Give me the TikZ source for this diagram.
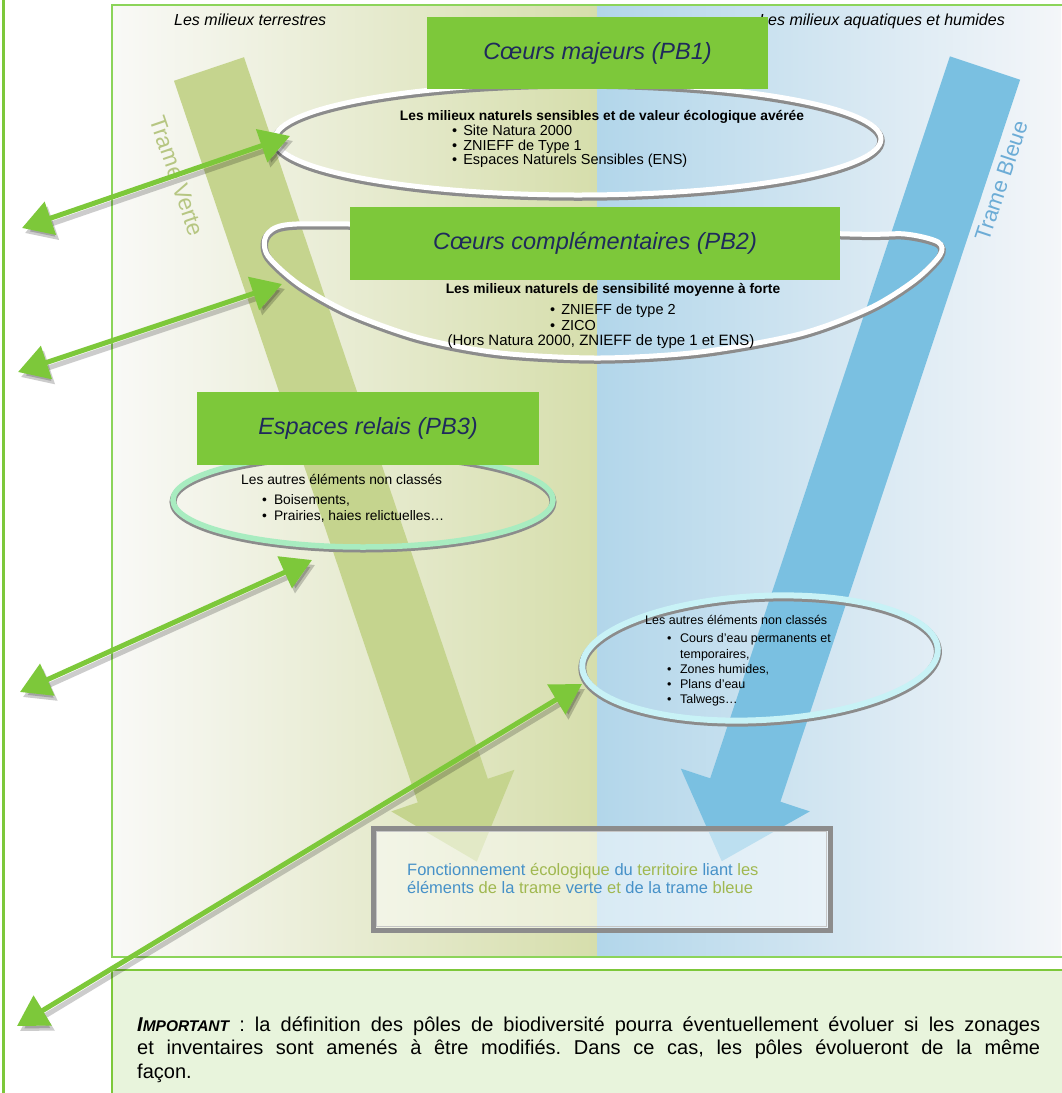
\documentclass[tikz,border=0pt]{standalone}
\usepackage{fontspec}
\setmainfont{Liberation Sans}
\usetikzlibrary{arrows.meta}
\definecolor{lime}{RGB}{125,200,58}
\definecolor{framegreen}{RGB}{140,212,90}
\definecolor{navy}{RGB}{31,42,92}
\definecolor{vbar}{RGB}{197,212,142}
\definecolor{bbar}{RGB}{122,192,225}
\definecolor{vtxt}{RGB}{182,198,130}
\definecolor{btxt}{RGB}{108,172,214}
\definecolor{impfill}{RGB}{232,244,220}
\definecolor{mint}{RGB}{168,236,192}
\definecolor{cyanring}{RGB}{200,242,246}
\definecolor{ringgray}{RGB}{140,140,140}
\definecolor{fblue}{RGB}{70,145,200}
\definecolor{fgreen}{RGB}{160,184,80}
\definecolor{bgLa}{RGB}{249,249,247}
\definecolor{bgLb}{RGB}{238,240,222}
\definecolor{bgLc}{RGB}{214,222,172}
\definecolor{bgRa}{RGB}{178,214,234}
\definecolor{bgRb}{RGB}{214,232,242}
\definecolor{bgRc}{RGB}{244,246,249}
\newcommand{\myfs}[1]{\fontsize{#1}{#1}\selectfont}
\frenchspacing
\begin{document}
\begin{tikzpicture}[x=1pt,y=1pt,
  titlebox/.style={fill=lime, inner sep=0pt, text=navy, font=\myfs{23.5}\itshape},
  lst/.style={anchor=base west, inner sep=0pt},
  ctr/.style={anchor=base, inner sep=0pt},
  conn/.style={draw=lime, line width=5pt, {Triangle[length=30pt,width=34pt]}-{Triangle[length=30pt,width=34pt]}},
  connsh/.style={draw=black, opacity=0.2, line width=5pt, {Triangle[length=30pt,width=34pt]}-{Triangle[length=30pt,width=34pt]}, transform canvas={shift={(3pt,-5pt)}}}
]
\useasboundingbox (0,0) rectangle (1061,-1093);
\fill[white] (0,0) rectangle (1061,-1093);

% background of the diagram
\shade[left color=bgLa, middle color=bgLb, right color=bgLc] (112,-5) rectangle (597,-957);
\shade[left color=bgRa, middle color=bgRb, right color=bgRc] (597,-5) rectangle (1061,-957);
\draw[framegreen, line width=1.2pt] (112,-5) rectangle (1075,-957);
\draw[lime, line width=2.5pt] (3.5,0) -- (3.5,-1093);

% big arrows
\fill[vbar] (174,-80.8) -- (244,-57.2) -- (487.8,-778.8) -- (514.4,-769.8) -- (476.8,-861.6) -- (391.3,-811.4) -- (417.8,-802.4) -- cycle;
\fill[bbar] (949.9,-56.3) -- (1020.1,-79.7) -- (780.4,-801.7) -- (809.8,-811.4) -- (721.7,-861.2) -- (680.8,-768.6) -- (710.2,-778.3) -- cycle;
\node[rotate=-71, text=vtxt, inner sep=0pt, font=\myfs{23}] (tverte) at (177,-176) {Trame Verte};
\node[rotate=71.6, text=btxt, inner sep=0pt, font=\myfs{22}] (tbleue) at (1001,-181) {Trame Bleue};

% top labels
\node[anchor=base west, inner sep=0pt, font=\myfs{16}\itshape] (lterr) at (174,-25) {Les milieux terrestres};
\node[anchor=base east, inner sep=0pt, font=\myfs{16}\itshape] (laqua) at (1005,-25) {Les milieux aquatiques et humides};

% rings
\draw[ringgray, line width=7.5pt] (578,-141) ellipse [x radius=303, y radius=56];
\draw[white, line width=5pt] (578,-139) ellipse [x radius=303, y radius=56];
\draw[ringgray, line width=7.5pt, yshift=-2pt] plot[smooth cycle] coordinates {(600,-226) (350,-224) (285,-225) (266,-236) (268,-256) (300,-285) (350,-313) (420,-338) (500,-353) (600,-358) (700,-352) (800,-334) (870,-308) (915,-280) (940,-255) (938,-242) (905,-234) (850,-234)};
\draw[white, line width=5pt] plot[smooth cycle] coordinates {(600,-226) (350,-224) (285,-225) (266,-236) (268,-256) (300,-285) (350,-313) (420,-338) (500,-353) (600,-358) (700,-352) (800,-334) (870,-308) (915,-280) (940,-255) (938,-242) (905,-234) (850,-234)};
\draw[ringgray, line width=7pt] (363,-502) ellipse [x radius=190, y radius=47];
\draw[mint, line width=5.5pt] (363,-500) ellipse [x radius=190, y radius=47];
\draw[ringgray, line width=8pt, rotate around={3:(760,-658)}] (760,-660) ellipse [x radius=178, y radius=62];
\draw[cyanring, line width=6pt, rotate around={3:(760,-658)}] (760,-658) ellipse [x radius=178, y radius=62];

% title boxes
\node[titlebox, minimum width=341pt, minimum height=72pt] (pb1) at (597.5,-53) {Cœurs majeurs (PB1)};
\node[titlebox, minimum width=490pt, minimum height=73pt] (pb2) at (595,-243.5) {Cœurs complémentaires (PB2)};
\node[titlebox, minimum width=342pt, minimum height=73pt] (pb3) at (368,-428.5) {Espaces relais (PB3)};

% PB1 text
\node[ctr, font=\myfs{13.8}\bfseries] (h1) at (602,-120) {Les milieux naturels sensibles et de valeur écologique avérée};
\node[lst, font=\myfs{14.5}] (b11) at (452,-135.5) {•\hspace{6pt}Site Natura 2000};
\node[lst, font=\myfs{14.5}] (b12) at (452,-150) {•\hspace{6pt}ZNIEFF de Type 1};
\node[lst, font=\myfs{14.5}] (b13) at (452,-164.5) {•\hspace{6pt}Espaces Naturels Sensibles (ENS)};

% PB2 text
\node[ctr, font=\myfs{13.8}\bfseries] (h2) at (613,-293.5) {Les milieux naturels de sensibilité moyenne à forte};
\node[lst, font=\myfs{14.5}] (b21) at (550,-314.5) {•\hspace{6pt}ZNIEFF de type 2};
\node[lst, font=\myfs{14.5}] (b22) at (550,-330.5) {•\hspace{6pt}ZICO};
\node[ctr, font=\myfs{15}] (b23) at (601,-345.5) {(Hors Natura 2000, ZNIEFF de type 1 et ENS)};

% PB3 text
\node[lst, font=\myfs{13.8}] (h3) at (241,-484.5) {Les autres éléments non classés};
\node[lst, font=\myfs{13.8}] (b31) at (262,-504.5) {•\hspace{7pt}Boisements,};
\node[lst, font=\myfs{13.8}] (b32) at (262,-520) {•\hspace{7pt}Prairies, haies relictuelles…};

% blue ellipse text
\node[lst, font=\myfs{12.5}] (h4) at (645,-624) {Les autres éléments non classés};
\node[lst, font=\myfs{12.5}] (b41) at (667,-642) {•\hspace{8.5pt}Cours d'eau permanents et};
\node[lst, font=\myfs{12.5}] (b41b) at (680,-658) {temporaires,};
\node[lst, font=\myfs{12.5}] (b42) at (667,-673) {•\hspace{8.5pt}Zones humides,};
\node[lst, font=\myfs{12.5}] (b43) at (667,-688) {•\hspace{8.5pt}Plans d'eau};
\node[lst, font=\myfs{12.5}] (b44) at (667,-703.5) {•\hspace{8.5pt}Talwegs…};

% bottom box
\node[draw=ringgray, line width=5pt, fill=white, fill opacity=0.5, minimum width=457pt, minimum height=102pt, inner sep=0pt] (fbox) at (601.5,-879) {};
\draw[gray!45, line width=1.2pt] ([shift={(6,6)}]fbox.south west) rectangle ([shift={(-6,-6)}]fbox.north east);
\node[lst, font=\myfs{16.5}] (ft1) at (407,-875) {\textcolor{fblue}{Fonctionnement} \textcolor{fgreen}{écologique} \textcolor{fblue}{du} \textcolor{fgreen}{territoire} \textcolor{fblue}{liant} \textcolor{fgreen}{les}};
\node[lst, font=\myfs{16.5}] (ft2) at (407,-893) {\textcolor{fblue}{éléments} \textcolor{fgreen}{de} \textcolor{fblue}{la} \textcolor{fgreen}{trame} \textcolor{fblue}{verte} \textcolor{fgreen}{et} \textcolor{fblue}{de la trame} \textcolor{fgreen}{bleue}};

% important box
\draw[fill=impfill, draw=lime, line width=2pt] (112,-970) rectangle (1075,-1100);
\node[lst, font=\myfs{20}] (imp1) at (137,-1031) {\makebox[903pt][s]{{\bfseries\itshape I{\myfs{15.5}MPORTANT}} : la définition des pôles de biodiversité pourra éventuellement évoluer si les zonages}};
\node[lst, font=\myfs{20}] (imp2) at (137,-1054.5) {\makebox[903pt][s]{et inventaires sont amenés à être modifiés. Dans ce cas, les pôles évolueront de la même}};
\node[lst, font=\myfs{20}] (imp3) at (137,-1078) {façon.};

% connectors
\coordinate (a1s) at (22,-228);  \coordinate (a1e) at (290,-136);
\coordinate (a2s) at (18,-372);  \coordinate (a2e) at (282,-284);
\coordinate (a3s) at (20,-692);  \coordinate (a3e) at (312,-560);
\coordinate (a4s) at (17,-1026); \coordinate (a4e) at (582,-684);
\foreach \s/\e in {a1s/a1e, a2s/a2e, a3s/a3e, a4s/a4e}{
  \draw[connsh] (\s) -- (\e);
}
\foreach \s/\e in {a1s/a1e, a2s/a2e, a3s/a3e, a4s/a4e}{
  \draw[conn] (\s) -- (\e);
}
\end{tikzpicture}
\end{document}
